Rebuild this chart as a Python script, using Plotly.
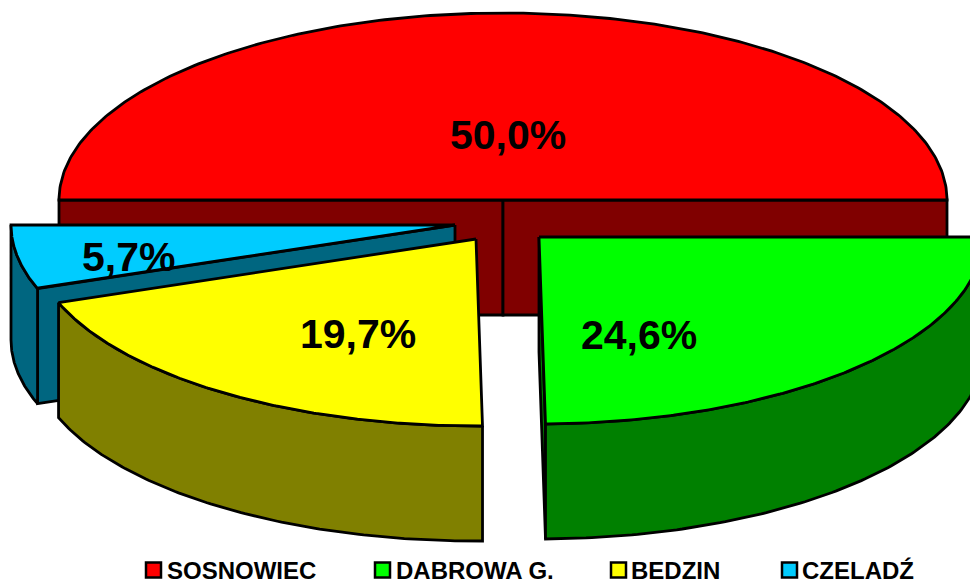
import numpy as np
import plotly.graph_objects as go

categories = ["SOSNOWIEC", "DABROWA G.", "BEDZIN", "CZELADŹ"]
shares = [50.0, 24.6, 19.7, 5.7]
labels = ["50,0%", "24,6%", "19,7%", "5,7%"]

top_colors = ["#FF0000", "#00FF00", "#FFFF00", "#00CCFF"]
side_colors = ["#800000", "#008000", "#808000", "#006680"]

# projection of the pie (page pixels)
CX, CY, RX, RY, DEPTH = 503, 200, 444, 187, 115
explode_x = [0, 36, -27, -48]
explode_y = [0, 37, 39, 25]
label_x = [508, 639, 358, 128]
label_y = [135, 335, 334, 257]
draw_order = [0, 3, 2, 1]
LINE = dict(color="black", width=2.8)
FRONT_SKEW = np.radians(0.6)   # perspective skew of edges on the front half

# key below the pie
key_box_x = [146, 375, 611, 782]
key_text_x = [166, 395, 630, 801]
KEY_Y, KEY_BOX = 570, 15

fig = go.Figure()


def ell(t, cx, cy):
    return cx + RX * np.cos(t), cy - RY * np.sin(t)


def poly(x, y, color, name=None):
    fig.add_trace(go.Scatter(
        x=list(x) + [x[0]], y=list(y) + [y[0]], mode="lines", fill="toself",
        fillcolor=color, line=LINE, hoverinfo="skip",
        name=name, showlegend=False,
    ))


# slices run clockwise from the left end of the pie
edges = np.pi - np.cumsum([0] + shares) / sum(shares) * 2 * np.pi
edges[2:4] -= FRONT_SKEW
for i in draw_order:
    hi, lo = edges[i], edges[i + 1]
    cx, cy = CX + explode_x[i], CY + explode_y[i]

    # flat cut faces that point towards the viewer
    for t, visible in ((hi, np.cos(hi) < 0), (lo, np.cos(lo) > 0)):
        if visible:
            ex, ey = ell(t, cx, cy)
            poly([cx, ex, ex, cx], [cy, ey, ey + DEPTH, cy + DEPTH], side_colors[i])

    # curved outer wall (only the lower half of the ellipse is seen)
    if lo < 0:
        ts = np.linspace(min(hi, 0.0), lo, 120)
        ax, ay = ell(ts, cx, cy)
        poly(np.r_[ax, ax[::-1]], np.r_[ay, ay[::-1] + DEPTH], side_colors[i])

    # top face
    ts = np.linspace(hi, lo, 240)
    tx, ty = ell(ts, cx, cy)
    poly(np.r_[cx, tx], np.r_[cy, ty], top_colors[i], name=categories[i])

for lab, x, y in zip(labels, label_x, label_y):
    fig.add_annotation(x=x, y=y, text=f"<b>{lab}</b>", showarrow=False,
                       font=dict(family="Liberation Sans", size=41, color="black"))

for name, color, bx, tx in zip(categories, top_colors, key_box_x, key_text_x):
    fig.add_shape(type="rect", x0=bx, x1=bx + KEY_BOX, y0=KEY_Y - KEY_BOX / 2, y1=KEY_Y + KEY_BOX / 2,
                  fillcolor=color, line=dict(color="black", width=2.5))
    fig.add_annotation(x=tx, y=KEY_Y, text=f"<b>{name}</b>", showarrow=False, xanchor="left",
                       yanchor="middle", borderpad=0,
                       font=dict(family="Liberation Sans", size=24, color="black"))

fig.update_layout(
    width=970, height=579, margin=dict(l=0, r=0, t=0, b=0, autoexpand=False),
    paper_bgcolor="white", plot_bgcolor="white", showlegend=False,
    xaxis=dict(range=[0, 970], visible=False, fixedrange=True),
    yaxis=dict(range=[579, 0], visible=False, fixedrange=True),
)
fig.write_html("out.html", config=dict(displayModeBar=False),
               post_script="document.body.style.margin='0';")
